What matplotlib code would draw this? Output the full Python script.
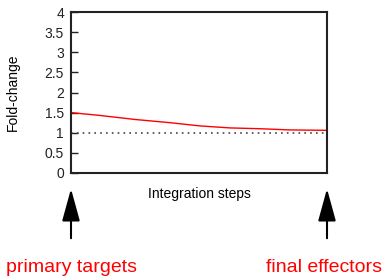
import numpy as np
import matplotlib
matplotlib.use('Agg')
import matplotlib.pyplot as plt
from matplotlib.patches import FancyArrowPatch

plt.rcParams['font.family'] = ['Liberation Sans', 'DejaVu Sans']

# integration step position (0 = primary targets, 1 = final effectors)
steps = [0.0, 0.113, 0.25, 0.387, 0.504, 0.621, 0.738, 0.855, 1.0]
fold_change = [1.5, 1.43, 1.33, 1.25, 1.17, 1.12, 1.10, 1.07, 1.06]
baseline = 1.0
yticks = [0, 0.5, 1, 1.5, 2, 2.5, 3, 3.5, 4]
ytick_labels = ['0', '0.5', '1', '1.5', '2', '2.5', '3', '3.5', '4']
end_labels = ['primary targets', 'final effectors']

W, H = 386, 278
fig = plt.figure(figsize=(W / 100, H / 100), dpi=100)
ax = fig.add_axes([71 / W, (H - 173) / H, 256 / W, 161 / H])

ax.plot(steps, fold_change, color='red', lw=1.0)
ax.axhline(baseline, color='#444444', lw=1.2, ls=(0, (1, 2.5)))

ax.set_xlim(0, 1)
ax.set_ylim(0, 4)
ax.set_yticks(yticks)
ax.set_yticklabels(ytick_labels, fontsize=10)
ax.set_xticks([])
ax.tick_params(axis='y', direction='in', length=5, width=1, pad=5, colors='#222222')
for sp in ax.spines.values():
    sp.set_linewidth(1.5)
    sp.set_color('#222222')

ax.set_xlabel('Integration steps', fontsize=10)
ax.xaxis.set_label_coords(0.5, -0.09)
ax.set_ylabel('Fold-change', fontsize=10)
ax.yaxis.set_label_coords(-51 / 256, 0.5)

# arrows below the axis
for xp in (71, 327):
    arr = FancyArrowPatch((xp / W, 1 - 241 / H), (xp / W, 1 - 186 / H),
                          transform=fig.transFigure,
                          arrowstyle='-|>,head_length=20,head_width=5.5',
                          mutation_scale=1, lw=1.5, color='black')
    fig.patches.append(arr)

fig.text(6 / W, 1 - 268 / H, end_labels[0], color='red', fontsize=14, va='center', ha='left')
fig.text(382 / W, 1 - 268 / H, end_labels[1], color='red', fontsize=14, va='center', ha='right')

fig.savefig('out.png', dpi=100)
